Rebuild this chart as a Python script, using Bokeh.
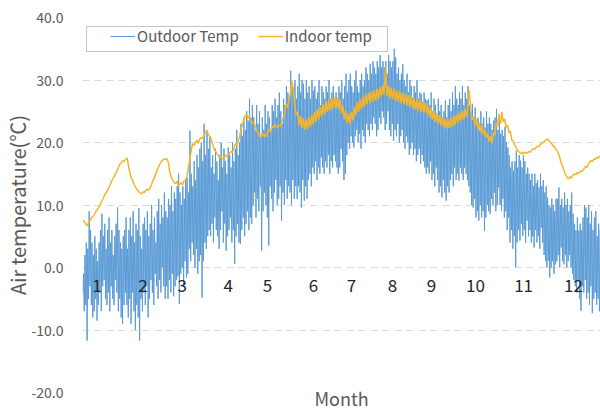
from bokeh.plotting import figure
from bokeh.models import (FixedTicker, NumeralTickFormatter, Range1d, Legend,
                          LegendItem, BoxAnnotation, ColumnDataSource)
from bokeh.embed import file_html
from bokeh.resources import INLINE
from bokeh.core.properties import value

FONT = "Noto Sans CJK KR"

# Daily minimum / maximum outdoor air temperature (deg C), Jan 1 .. Dec 31
outdoor_low = [
    # Jan
    -4, -7, -6, -11.7, -5, -3, -6, -8, -7, -5, -8.5, -6, -4, -7, -3, -2, -5, -6, -4, -7,
    -3, -5, -6, -2, -4, -7, -5, -8, -9, -6, -4,
    # Feb
    -6, -8, -5, -9, -4, -7, -10, -6, -8, -11.7, -5, -7, -4, -6, -3, -8, -5, -2, -4, -6,
    -1, -3, -5, -2, -4, 0, -3, -5,
    # Mar
    -3, -5, -2, -4, -1, -4.6, -3, -2, -1.4, -5.8, -1, 0, -3, 1, -1.6, -1, 3, 1, 4, 2,
    0, 3, -1, 1, 2, -4.8, 1, 4, 3, 5, 6,
    # Apr
    5, 7, 4, 8, 6, 5, 3, 6, 9, 4, 7, 2.7, 5, 6, 8, 4, 6, 0.6, 5, 7,
    4, 3.8, 6, 8, 5, 7, 9, 6, 8, 7,
    # May
    10, 12, 8, 11, 9, 13, 2.7, 9, 12, 10, 8, 3.5, 13, 11, 9, 12, 14, 10, 11, 13,
    7.5, 12, 10, 14, 11, 13, 12, 10, 14, 11, 13,
    # Jun
    11, 13, 12, 9.6, 14, 10.7, 13, 11, 14, 15, 13, 16, 15, 17, 14, 16, 15, 17.6, 16, 15,
    17, 16, 18, 15, 17, 16, 18, 17, 16, 15,
    # Jul
    16, 19, 17, 14, 15, 18, 20, 19, 21, 20, 19.2, 21, 22, 20, 21.4, 19, 22, 21, 20, 23,
    22, 21, 23, 22, 24, 23, 21, 22, 24, 23, 25,
    # Aug
    24, 22, 23, 25, 22, 21, 23, 20.3, 22, 21, 23, 20, 21, 22, 20, 19, 21, 20, 18, 19,
    20, 18, 19, 17, 18, 19, 16.6, 18, 17, 16, 15,
    # Sep
    16, 15, 17, 14, 15, 13, 16, 14, 12, 13, 11.2, 14, 12, 10.7, 13, 12, 14, 15, 13, 16,
    14, 15, 13.9, 16, 15, 14, 16, 15, 14, 13,
    # Oct
    12, 10, 9.6, 11, 8, 9, 7.5, 10, 8, 9, 5.9, 8, 10, 9, 8.6, 11, 10, 12, 9, 10,
    12.8, 10, 9.1, 11, 8, 9, 6, 8, 4, 6, 3,
    # Nov
    5, 0.1, 4, 6, 4.3, 7, 5, 6, 4, 7.5, 5, 6, 4, 5, 3.2, 6, 4, 5, 3, 6.4,
    4, 2, 1, 0, 1.1, -1.6, 0, 1, -1, 0.5,
    # Dec
    1, 2, 0, 3.2, 1, 0.5, 2, 0, 1, 2, 0, -1, -2, -3, -4, -2, -5, -6.9, -3, -4,
    -2, -5, -4, -6, -3, -7.3, -5, -4, -6, -5, -7,
]

outdoor_high = [
    # Jan
    -1, 2, 4, 3, 9, 6, 4, 2, 5, 3, 1, 4, 6, 8.6, 5, 7, 3, 6, 8, 4,
    6, 2, 5, 7, 9.6, 6, 4, 3, 5, 6, 8,
    # Feb
    3, 6, 8, 5, 9, 4, 7, 6, 9.5, 5, 3, 7, 8, 6, 9, 5, 7, 10, 6, 8,
    4, 9, 11, 7, 10, 8, 12, 9,
    # Mar
    8, 11, 10, 13, 9, 12, 11, 13, 15, 12, 10, 13, 11, 14, 14.4, 12, 21.9, 15, 13, 17,
    14, 18, 16, 19, 20, 17, 23, 18, 22, 19, 21,
    # Apr
    16, 18, 15, 19, 17, 14, 18, 20, 16, 19, 17, 15, 19.2, 18, 16, 20, 17, 19, 22, 18,
    20, 23, 21, 24, 22, 25, 23.5, 27, 24, 26,
    # May
    24, 22, 26, 23, 25, 21, 24, 22, 26, 23, 25, 24, 22, 26, 25, 27, 24, 26, 28, 25,
    23, 27, 26, 29, 28, 27, 31.5, 29, 28, 30, 27,
    # Jun
    29, 31, 28, 30, 29.4, 27, 30, 28, 29, 27, 30, 28.3, 29, 27, 28, 30, 26, 29, 28, 27,
    29, 28, 30, 27, 28, 29, 27, 28, 26, 29,
    # Jul
    28, 30, 27, 29, 31, 28, 30, 31, 29, 28, 30, 31.5, 29, 28, 30, 31, 29, 30, 32, 31,
    30, 32.6, 31, 33, 32, 31, 33, 32, 34, 32, 33,
    # Aug
    32, 33, 31, 34, 33, 32, 33, 35, 33.6, 31, 32, 30, 31, 32.5, 30, 29, 31, 28, 30, 29,
    27.2, 29, 28, 30, 27, 28, 27.8, 26, 28, 27, 26.7,
    # Sep
    27, 26, 28, 25, 27, 26, 24, 27, 25, 26, 24, 25, 26.7, 24, 26, 27, 25, 28, 26, 29,
    27, 26, 28, 27, 29, 26, 28, 27, 29, 26,
    # Oct
    25, 26.2, 24, 25.6, 23, 24, 22, 25, 23, 24, 22.4, 25, 23, 24, 23, 22, 23.5, 24, 25.4, 22,
    23.5, 21.4, 22, 21, 22.5, 20, 19.2, 18, 16, 17, 15.5,
    # Nov
    17, 18.7, 16, 18, 17.1, 16, 18, 17, 15, 16, 15, 14, 15, 13, 15, 13.5, 14, 12.8, 15, 13,
    14, 12, 13, 11.2, 10, 9.6, 11, 10, 9, 11,
    # Dec
    11, 12.8, 10, 11, 9.6, 12, 10, 11, 9, 10, 12, 8.6, 7, 6, 8, 5.9, 7, 6, 8, 10,
    9.6, 8, 10, 7, 9, 6, 8, 9, 5, 7, 6,
]

# Daily indoor air temperature (deg C); summer days swing between day and night readings
indoor_temp = [
    # Jan
    7.6, 7.2, 6.9, 6.7, 7.3, 7.6, 8.0, 8.2, 8.6, 9.0, 9.3, 9.6, 10.1, 10.6, 11.0, 11.5,
    11.9, 12.3, 12.8, 13.2, 13.8, 14.2, 14.7, 15.1, 15.6, 16.1, 16.6, 16.8, 17.1, 17.0, 17.4,
    # Feb
    17.5, 16.2, 15.0, 14.3, 13.8, 13.2, 12.8, 12.5, 12.2, 11.9, 11.8, 12.1, 12.0, 12.3,
    12.5, 12.4, 12.7, 13.2, 13.8, 14.3, 14.9, 15.5, 16.1, 16.6, 16.9, 17.2, 17.4, 17.3,
    # Mar
    17.4, 16.8, 15.2, 14.5, 14.0, 13.6, 13.4, 13.8, 13.1, 13.3, 13.6, 13.2, 13.9, 14.0,
    14.4, 15.8, 17.2, 18.5, 19.8, 19.5, 20.0, 20.4, 19.9, 20.5, 20.8, 20.6, 21.2, 21.5,
    21.9, 21.4, 21.0,
    # Apr
    20.6, 19.8, 19.2, 18.7, 18.3, 18.0, 17.6, 17.8, 17.4, 17.5, 17.7, 18.0, 17.8, 18.2,
    18.6, 18.4, 18.9, 19.8, 19.5, 20.1, 20.8, 21.9, 22.7, 23.6, 24.2, 24.6, 23.8, 24.3,
    23.5, 23.0,
    # May
    23.4, 22.8, 22.0, 21.5, 21.0, 20.8, 21.6, 21.0, 21.3, 20.9, 21.8, 22.1, 21.6, 22.5,
    22.4, 23.0, 22.6, 22.3, 22.8, 22.6, 23.4, 24.0, 24.8, 26.2, 25.6, 26.8, 27.8, 29.8,
    28.6, 26.0, 24.5,
    # Jun
    24.9, 22.7, 24.3, 22.3, 23.9, 22.1, 23.7, 22.1, 24.1, 22.5, 24.5, 22.9, 24.9, 23.3,
    25.3, 23.7, 25.7, 24.1, 26.1, 24.5, 26.5, 24.9, 26.9, 25.1, 27.1, 25.4, 27.3, 25.5,
    27.2, 25.3,
    # Jul
    26.9, 24.7, 25.9, 23.7, 25.1, 23.1, 24.7, 22.9, 24.9, 23.5, 25.7, 24.3, 26.5, 24.9,
    26.9, 25.3, 27.3, 25.7, 27.7, 26.1, 28.0, 26.3, 28.2, 26.5, 28.4, 26.7, 28.6, 26.9,
    28.9, 27.3, 29.2,
    # Aug
    27.6, 32.0, 27.4, 29.1, 27.1, 28.8, 26.9, 28.6, 26.7, 28.4, 26.5, 28.2, 26.3, 28.0,
    26.1, 27.8, 25.9, 27.6, 25.7, 27.4, 25.5, 27.2, 25.3, 27.0, 25.1, 26.8, 24.9, 26.6,
    24.7, 26.4, 24.6,
    # Sep
    25.9, 24.1, 25.5, 23.7, 25.1, 23.3, 24.7, 23.0, 24.4, 22.7, 24.1, 22.4, 23.8, 22.2,
    23.8, 22.3, 24.0, 22.5, 24.2, 22.8, 24.5, 23.1, 24.8, 23.4, 25.1, 23.7, 25.4, 24.0,
    25.6, 28.3,
    # Oct
    25.4, 23.6, 24.2, 22.8, 23.8, 22.2, 23.2, 21.6, 22.8, 21.2, 22.0, 20.8, 21.4, 20.2,
    21.0, 19.8, 21.6, 21.2, 23.2, 22.6, 24.6, 23.0, 24.9, 23.3, 23.8, 22.4, 22.8, 21.5,
    21.8, 20.4, 20.2,
    # Nov
    19.6, 19.2, 18.8, 18.5, 18.3, 18.2, 18.5, 18.2, 18.4, 18.3, 18.6, 18.4, 18.8, 19.0,
    18.9, 19.2, 19.4, 19.3, 19.7, 19.8, 20.0, 20.2, 20.4, 20.6, 20.3, 20.1, 19.8, 19.5,
    19.3, 19.0,
    # Dec
    18.6, 18.2, 17.4, 16.6, 16.0, 15.4, 14.8, 14.4, 14.2, 14.5, 14.3, 14.8, 15.0, 14.8,
    15.2, 15.0, 15.4, 15.3, 15.5, 15.8, 16.2, 16.0, 16.6, 16.9, 17.1, 17.0, 17.4, 17.3,
    17.6, 17.5, 17.9,
]

month_labels = [str(m) for m in range(1, 13)]
y_ticks = [-20, -10, 0, 10, 20, 30, 40]

# where the month numbers sit along the day-of-year axis, and at what height
month_label_day = [10.2, 42.6, 70.2, 102.6, 130.4, 162.8, 189.6, 218.5, 245.9, 276.9, 310.8, 346.0]
MONTH_LABEL_Y = -2.8

# outdoor: each day's minimum (early morning) then maximum (afternoon)
out_x, out_y = [], []
for d, (lo, hi) in enumerate(zip(outdoor_low, outdoor_high)):
    out_x += [d + 0.25, d + 0.7]
    out_y += [lo, hi]
in_x = [d + 0.5 for d in range(len(indoor_temp))]

p = figure(width=600, height=413, output_backend="svg", toolbar_location=None,
           x_range=Range1d(0, 365), y_range=Range1d(-20, 40),
           min_border_left=82, min_border_right=0, min_border_top=17, min_border_bottom=21)
p.outline_line_color = None
p.background_fill_color = "white"
p.border_fill_color = "white"

p.xgrid.visible = False
p.ygrid.grid_line_color = "#D9D9D9"
p.ygrid.grid_line_dash = "7 5"
p.ygrid.grid_line_width = 1

# y axis
p.yaxis.ticker = FixedTicker(ticks=y_ticks)
p.yaxis.formatter = NumeralTickFormatter(format="0.0")
p.yaxis.axis_line_color = None
p.yaxis.major_tick_line_color = None
p.yaxis.minor_tick_line_color = None
p.yaxis.major_tick_out = 0
p.yaxis.major_tick_in = 0
p.yaxis.major_label_standoff = 19
p.yaxis.major_label_text_font = FONT
p.yaxis.major_label_text_font_size = "14px"
p.yaxis.major_label_text_color = "#595959"
p.yaxis.axis_label = "Air temperature(℃)"
p.yaxis.axis_label_text_font = FONT
p.yaxis.axis_label_text_font_size = "20px"
p.yaxis.axis_label_text_font_style = "normal"
p.yaxis.axis_label_text_color = "#595959"
p.yaxis.axis_label_standoff = -4

# x axis: title only, tucked close to the plot area
p.xaxis.ticker = FixedTicker(ticks=[])
p.xaxis.axis_line_color = None
p.xaxis.major_tick_line_color = None
p.xaxis.minor_tick_line_color = None
p.xaxis.major_tick_out = 0
p.xaxis.major_tick_in = 0
p.xaxis.major_label_standoff = 0
p.xaxis.axis_label = "Month"
p.xaxis.axis_label_text_font = FONT
p.xaxis.axis_label_text_font_size = "18px"
p.xaxis.axis_label_text_font_style = "normal"
p.xaxis.axis_label_text_color = "#595959"
p.xaxis.axis_label_standoff = -8

r_out = p.line(out_x, out_y, line_color="#5B9BD5", line_width=1.0)
r_in = p.line(in_x, indoor_temp, line_color="#F5B52A", line_width=1.5)

month_src = ColumnDataSource(dict(x=month_label_day, y=[MONTH_LABEL_Y] * 12, t=month_labels))
p.text(x="x", y="y", text="t", source=month_src, text_font=value(FONT),
       text_font_size="17px", text_color="#262626", text_align="center",
       text_baseline="middle")

# legend frame and entries
box = BoxAnnotation(left=86, right=387, top=26, bottom=51,
                    left_units="canvas", right_units="canvas",
                    top_units="canvas", bottom_units="canvas",
                    fill_color="white", fill_alpha=1.0,
                    line_color="#404040", line_width=1)
p.add_layout(box)

legend = Legend(items=[LegendItem(label="Outdoor Temp", renderers=[r_out]),
                       LegendItem(label="Indoor temp", renderers=[r_in])],
                orientation="horizontal", location=(28, 392 - 17 - 30 + 1),
                border_line_color=None, background_fill_alpha=0,
                padding=0, margin=0, spacing=19, glyph_width=25, glyph_height=16,
                label_height=16, label_standoff=2,
                label_text_font=FONT, label_text_font_size="15px",
                label_text_color="#595959")
p.add_layout(legend)

open("out.html", "w").write(file_html(p, INLINE))
